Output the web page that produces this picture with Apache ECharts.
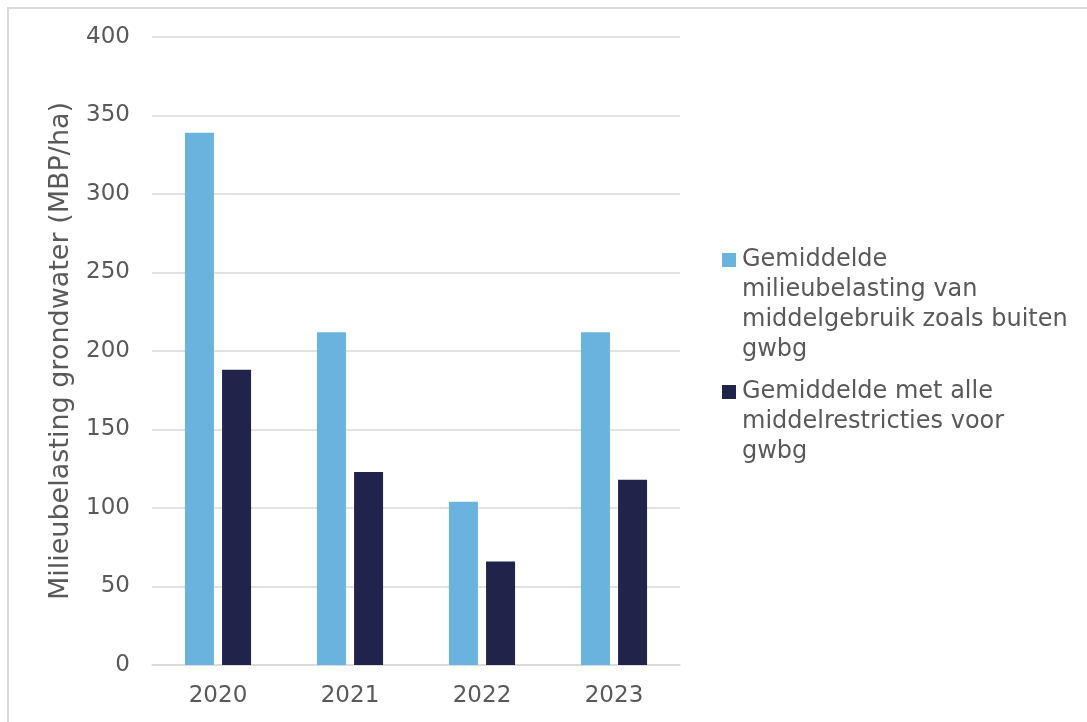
<!DOCTYPE html>
<html>
<head>
<meta charset="utf-8">
<script src="https://cdn.jsdelivr.net/npm/echarts@6/dist/echarts.min.js"></script>
<style>
html,body{margin:0;padding:0;background:#fff;}
#chart{width:1087px;height:722px;}
</style>
</head>
<body>
<div id="chart"></div>
<script>
const categories = ['2020', '2021', '2022', '2023'];
const seriesNames = [
  'Gemiddelde milieubelasting van middelgebruik zoals buiten gwbg',
  'Gemiddelde met alle middelrestricties voor gwbg'
];
const legendLines = [
  ['Gemiddelde', 'milieubelasting van', 'middelgebruik zoals buiten', 'gwbg'],
  ['Gemiddelde met alle', 'middelrestricties voor', 'gwbg']
];
const valuesBuiten = [339, 212, 104, 212];
const valuesRestricties = [188, 123, 66, 118];
const yAxisName = 'Milieubelasting grondwater (MBP/ha)';

const COLORS = ['#69b3de', '#20234a'];
const FONT = 'DejaVu Sans';
const TXT = '#595959';

function legendFormatter(name) {
  const i = seriesNames.indexOf(name);
  return legendLines[i].map(function (line, k) {
    return (k === 0 ? '{sq' + i + '|}{gap|}' : '{ind|}') + '{t|' + line + '}';
  }).join('\n');
}

const chart = echarts.init(document.getElementById('chart'), null, {renderer: 'canvas'});
chart.setOption({
  backgroundColor: '#fff',
  animation: false,
  textStyle: {fontFamily: FONT, color: TXT},
  graphic: [{
    type: 'rect',
    shape: {x: 8, y: 8, width: 1200, height: 800},
    style: {fill: 'none', stroke: '#d9d9d9', lineWidth: 2},
    silent: true
  }],
  grid: {left: 152, right: 407, top: 37, bottom: 57, containLabel: false},
  legend: {
    orient: 'vertical',
    left: 712,
    top: 240,
    itemWidth: 0,
    itemHeight: 0,
    icon: 'none',
    itemGap: 12,
    selectedMode: false,
    formatter: legendFormatter,
    textStyle: {
      fontFamily: FONT, fontSize: 24, color: TXT, lineHeight: 30,
      rich: {
        sq0: {width: 14, height: 14, backgroundColor: COLORS[0]},
        sq1: {width: 14, height: 14, backgroundColor: COLORS[1]},
        gap: {width: 6},
        ind: {width: 20},
        t: {fontFamily: FONT, fontSize: 24, color: TXT, lineHeight: 30}
      }
    },
    data: seriesNames
  },
  xAxis: {
    type: 'category',
    data: categories,
    axisLine: {lineStyle: {color: '#d9d9d9', width: 1.5}},
    axisTick: {show: false},
    axisLabel: {fontFamily: FONT, fontSize: 23, color: TXT, margin: 20}
  },
  yAxis: {
    type: 'value',
    min: 0,
    max: 400,
    interval: 50,
    name: yAxisName,
    nameLocation: 'middle',
    nameGap: 78,
    nameRotate: 90,
    nameTextStyle: {fontFamily: FONT, fontSize: 27, color: TXT},
    axisLine: {show: false},
    axisTick: {show: false},
    axisLabel: {fontFamily: FONT, fontSize: 23, color: TXT, margin: 22},
    splitLine: {lineStyle: {color: '#d9d9d9', width: 1.5}}
  },
  series: [
    {
      name: seriesNames[0],
      type: 'bar',
      data: valuesBuiten,
      barWidth: 29,
      barGap: '28%',
      itemStyle: {color: COLORS[0]}
    },
    {
      name: seriesNames[1],
      type: 'bar',
      data: valuesRestricties,
      barWidth: 29,
      itemStyle: {color: COLORS[1]}
    }
  ]
});
</script>
</body>
</html>
